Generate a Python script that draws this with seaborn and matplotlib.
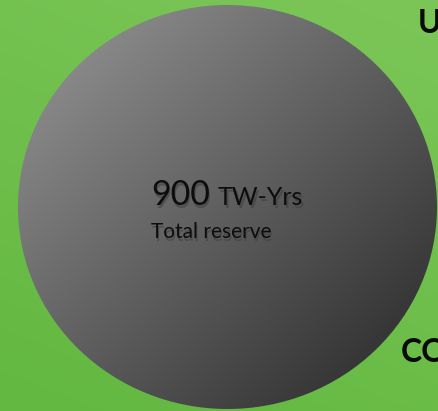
import numpy as np
import matplotlib
matplotlib.use("Agg")
import matplotlib.pyplot as plt
from matplotlib.patches import Ellipse
import seaborn as sns

# ---- data ----
categories = ["Total reserve"]
values = [900]
units = ["TW-Yrs"]
side_labels = ["U", "CO"]

sns.set_theme(style="white")
plt.rcParams['font.family'] = ['Lato', 'DejaVu Sans']

W, H = 439, 411
fig = plt.figure(figsize=(W / 100, H / 100), dpi=100)
ax = fig.add_axes([0, 0, 1, 1])
ax.set_xlim(0, W)
ax.set_ylim(H, 0)
ax.axis("off")

# green background with a soft gradient
yy, xx = np.mgrid[0:H, 0:W]
bg_light = np.array([0x7c, 0xc6, 0x58]) / 255
bg_dark = np.array([0x62, 0xb8, 0x40]) / 255
t = np.clip((yy / H) * 0.7 + (1 - xx / W) * 0.3, 0, 1)[..., None]
bg = bg_light * (1 - t) + bg_dark * t
ax.imshow(bg, extent=[0, W, H, 0], zorder=0, interpolation="bilinear")

# bubble
cx, cy = 227.5, 207
rx, ry = 209.5, 202
g = np.clip(((xx - (cx - rx)) / (2 * rx) + (yy - (cy - ry)) / (2 * ry)) / 2, 0, 1)[..., None]
c_light = np.array([0x98, 0x98, 0x98]) / 255
c_dark = np.array([0x25, 0x25, 0x25]) / 255
grad = c_light * (1 - g) + c_dark * g
im = ax.imshow(grad, extent=[0, W, H, 0], zorder=1, interpolation="bilinear")
ell = Ellipse((cx, cy), 2 * rx, 2 * ry, facecolor="none", edgecolor="none")
ax.add_patch(ell)
im.set_clip_path(ell)


def shadowed(x, y, s, **kw):
    ax.text(x + 1.5, y + 2.5, s, color="#3a3a3a", alpha=0.5, zorder=2, **kw)
    ax.text(x, y, s, color="#0d0d0d", zorder=3, **kw)


shadowed(151, 205, f"{values[0]}", fontsize=24.5, va="baseline", ha="left")
shadowed(218, 205, units[0], fontsize=18, va="baseline", ha="left")
shadowed(151, 238, categories[0], fontsize=15, va="baseline", ha="left")

ax.text(418, 33, side_labels[0], fontsize=23, fontweight="bold", color="#0a0a0a",
        va="baseline", ha="left", zorder=3)
ax.text(401, 362, side_labels[1], fontsize=23, fontweight="bold", color="#0a0a0a",
        va="baseline", ha="left", zorder=3)

fig.savefig("out.png", dpi=100)
